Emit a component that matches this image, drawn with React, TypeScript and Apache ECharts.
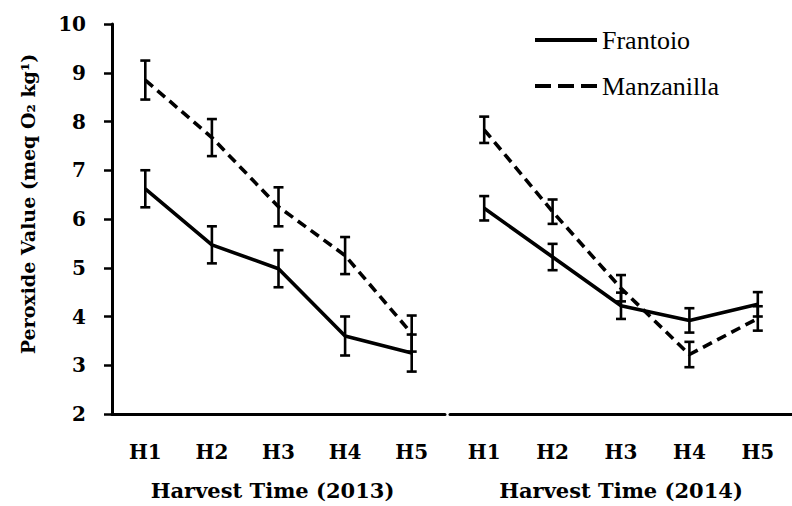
import React, { useEffect, useRef } from "react";
import * as echarts from "echarts";

const categories = ["H1", "H2", "H3", "H4", "H5"];
const frantoio2013 = [6.62, 5.47, 4.98, 3.6, 3.25];
const frantoio2013Err = [0.38, 0.38, 0.38, 0.4, 0.38];
const manzanilla2013 = [8.85, 7.67, 6.25, 5.25, 3.65];
const manzanilla2013Err = [0.4, 0.38, 0.4, 0.38, 0.37];
const frantoio2014 = [6.22, 5.22, 4.22, 3.92, 4.25];
const frantoio2014Err = [0.25, 0.27, 0.27, 0.25, 0.25];
const manzanilla2014 = [7.83, 6.15, 4.58, 3.22, 3.96];
const manzanilla2014Err = [0.27, 0.25, 0.27, 0.26, 0.25];
const yTicks = { min: 2, max: 10, interval: 1 };
const xNames = ["Harvest Time (2013)", "Harvest Time (2014)"];
const yName = "Peroxide Value (meq O₂ kg¹)";
const legendNames = ["Frantoio", "Manzanilla"];

const BOLD = "DejaVu Serif, serif";
const LEGEND_FONT = "Liberation Serif";
const SOLID_ICON = "path://M0,0 L62,0 L62,4 L0,4 Z";
const DASH_ICON = "path://M0,0 L16,0 L16,4 L0,4 Z M23,0 L39,0 L39,4 L23,4 Z M46,0 L62,0 L62,4 L46,4 Z";

function errData(vals: number[], errs: number[]) {
  return vals.map((v, i) => [i, v - errs[i], v + errs[i]]);
}

function errSeries(vals: number[], errs: number[], idx: number) {
  return {
    type: "custom",
    xAxisIndex: idx,
    yAxisIndex: idx,
    silent: true,
    z: 5,
    encode: { x: 0, y: [1, 2] },
    data: errData(vals, errs),
    renderItem: (_p: any, api: any) => {
      const x = api.value(0);
      const top = api.coord([x, api.value(2)]);
      const bot = api.coord([x, api.value(1)]);
      const w = 5;
      const st = { stroke: "#000", lineWidth: 2.6 };
      return {
        type: "group",
        children: [
          { type: "line", shape: { x1: top[0], y1: top[1], x2: bot[0], y2: bot[1] }, style: st },
          { type: "line", shape: { x1: top[0] - w, y1: top[1], x2: top[0] + w, y2: top[1] }, style: st },
          { type: "line", shape: { x1: bot[0] - w, y1: bot[1], x2: bot[0] + w, y2: bot[1] }, style: st },
        ],
      };
    },
  };
}

function lineSeries(name: string, vals: number[], idx: number, dashed: boolean) {
  return {
    name,
    type: "line",
    xAxisIndex: idx,
    yAxisIndex: idx,
    data: vals,
    symbol: "none",
    showSymbol: false,
    z: 4,
    lineStyle: { color: "#000", width: 3.6, type: dashed ? [10, 6] : "solid" },
    itemStyle: { color: "#000" },
  };
}

export default function App() {
  const ref = useRef<HTMLDivElement>(null);
  useEffect(() => {
    if (!ref.current) return;
    const chart = echarts.init(ref.current, undefined, { renderer: "svg" });
    const axisLabel = { color: "#000", fontFamily: BOLD, fontWeight: "bold", fontSize: 20 };
    const legendText = { color: "#000", fontFamily: LEGEND_FONT, fontSize: 26, fontWeight: "normal" };
    const xAxisBase = (i: number) => ({
      type: "category",
      gridIndex: i,
      data: categories,
      boundaryGap: true,
      axisLine: { show: true, lineStyle: { color: "#000", width: 3 } },
      axisTick: { show: false },
      axisLabel: { ...axisLabel, margin: 28 },
      name: xNames[i],
      nameLocation: "middle",
      nameGap: 66,
      nameTextStyle: {
        color: "#000",
        fontFamily: BOLD,
        fontWeight: "bold",
        fontSize: 21,
        padding: i === 0 ? [0, 12, 0, 0] : [0, 0, 0, 0],
      },
    });
    chart.setOption({
      animation: false,
      backgroundColor: "#fff",
      textStyle: { fontFamily: LEGEND_FONT },
      grid: [
        { left: 112, top: 24, width: 333, height: 393 },
        { left: 450, top: 24, width: 354, height: 393 },
      ],
      legend: {
        orient: "vertical",
        left: 535,
        top: 27,
        padding: 0,
        itemWidth: 62,
        itemHeight: 4,
        itemGap: 20,
        data: [
          { name: legendNames[0], icon: SOLID_ICON, textStyle: legendText },
          { name: legendNames[1], icon: DASH_ICON, textStyle: legendText },
        ],
        textStyle: legendText,
      },
      xAxis: [xAxisBase(0), xAxisBase(1)],
      yAxis: [
        {
          type: "value",
          gridIndex: 0,
          ...yTicks,
          splitLine: { show: false },
          axisLine: { show: true, lineStyle: { color: "#000", width: 3 } },
          axisTick: { show: true, length: 8, lineStyle: { color: "#000", width: 2.5 } },
          axisLabel: { ...axisLabel, margin: 26 },
          name: yName,
          nameLocation: "middle",
          nameGap: 75,
          nameRotate: 90,
          nameTextStyle: {
            color: "#000",
            fontFamily: BOLD,
            fontWeight: "bold",
            fontSize: 19,
            padding: [0, 0, 0, 30],
          },
        },
        {
          type: "value",
          gridIndex: 1,
          ...yTicks,
          show: false,
          splitLine: { show: false },
        },
      ],
      series: [
        lineSeries("Frantoio", frantoio2013, 0, false),
        lineSeries("Manzanilla", manzanilla2013, 0, true),
        lineSeries("Frantoio", frantoio2014, 1, false),
        lineSeries("Manzanilla", manzanilla2014, 1, true),
        errSeries(frantoio2013, frantoio2013Err, 0),
        errSeries(manzanilla2013, manzanilla2013Err, 0),
        errSeries(frantoio2014, frantoio2014Err, 1),
        errSeries(manzanilla2014, manzanilla2014Err, 1),
      ],
    });
    return () => chart.dispose();
  }, []);
  return (
    <div
      ref={ref}
      style={{ position: "fixed", left: 0, top: 0, width: 792, height: 506, background: "#fff" }}
    />
  );
}
